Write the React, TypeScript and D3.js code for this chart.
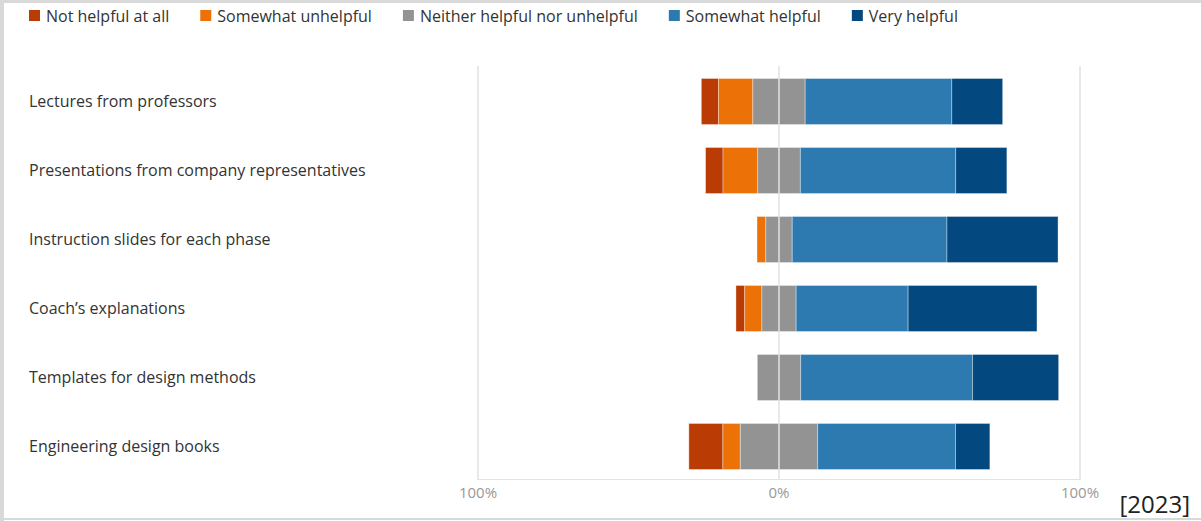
import React, { useRef, useEffect } from 'react';
import * as d3 from 'd3';

const categories = [
  'Lectures from professors',
  'Presentations from company representatives',
  'Instruction slides for each phase',
  'Coach\u2019s explanations',
  'Templates for design methods',
  'Engineering design books',
];
const seriesNames = [
  'Not helpful at all',
  'Somewhat unhelpful',
  'Neither helpful nor unhelpful',
  'Somewhat helpful',
  'Very helpful',
];
const seriesColors = ['#BA3B03', '#EC7208', '#939393', '#2D7AB0', '#03487F'];

const notHelpful = [5.7, 5.8, 0, 2.9, 0, 11.3];
const somewhatUnhelpful = [11.4, 11.5, 2.9, 5.7, 0, 5.8];
const neutral = [17.4, 14.2, 8.8, 11.4, 14.4, 25.7];
const somewhatHelpful = [48.7, 51.6, 51.4, 37.2, 57.1, 45.8];
const veryHelpful = [16.9, 17.0, 36.9, 42.8, 28.6, 11.4];

const tickValues = [-100, 0, 100];
const tickLabels = ['100%', '0%', '100%'];
const yearLabel = '[2023]';

const W = 1201;
const H = 521;
const FONT = '"Open Sans", sans-serif';

export default function App() {
  const ref = useRef<SVGSVGElement>(null);

  useEffect(() => {
    const svg = d3.select(ref.current);
    svg.selectAll('*').remove();

    // frame
    svg.append('rect').attr('x', 0).attr('y', 0).attr('width', W).attr('height', H).attr('fill', '#fff');
    svg.append('rect').attr('x', 0).attr('y', 0).attr('width', W).attr('height', 3).attr('fill', '#d9d9d9');
    svg.append('rect').attr('x', 0).attr('y', 0).attr('width', 4).attr('height', H).attr('fill', '#d9d9d9');
    svg.append('rect').attr('x', 0).attr('y', 518).attr('width', W).attr('height', 2).attr('fill', '#d9d9d9');

    const x = d3.scaleLinear().domain([-100, 100]).range([478, 1080]);
    const y = d3.scaleBand<string>().domain(categories).range([67, 481]).paddingInner(0.333).paddingOuter(0.1667);

    const series = [notHelpful, somewhatUnhelpful, neutral, somewhatHelpful, veryHelpful];

    // legend
    const legend = svg.append('g');
    let lx = 29;
    seriesNames.forEach((name, i) => {
      legend.append('rect').attr('x', lx).attr('y', 10).attr('width', 11).attr('height', 11).attr('fill', seriesColors[i]);
      const t = legend.append('text').attr('x', lx + 17).attr('y', 16).attr('dy', '0.35em')
        .attr('font-family', FONT).attr('font-size', 16).attr('fill', '#333').text(name);
      const w = (t.node() as SVGTextElement).getComputedTextLength();
      lx += 17 + w + 31;
    });

    // category labels
    svg.append('g').selectAll('text').data(categories).join('text')
      .attr('x', 29).attr('y', (d) => (y(d) as number) + y.bandwidth() / 2).attr('dy', '0.35em')
      .attr('font-family', FONT).attr('font-size', 16).attr('fill', '#333').text((d) => d);

    // bottom axis line
    svg.append('line').attr('x1', x(-100)).attr('x2', x(100)).attr('y1', 479.5).attr('y2', 479.5)
      .attr('stroke', '#e3e3e3').attr('stroke-width', 1);

    // bars
    const bars = svg.append('g');
    categories.forEach((c, r) => {
      let start = -(notHelpful[r] + somewhatUnhelpful[r] + neutral[r] / 2);
      series.forEach((s, i) => {
        const v = s[r];
        if (v > 0) {
          bars.append('rect')
            .attr('x', x(start)).attr('y', y(c) as number)
            .attr('width', x(start + v) - x(start)).attr('height', y.bandwidth())
            .attr('fill', seriesColors[i])
            .attr('stroke', 'rgba(255,255,255,0.35)').attr('stroke-width', 1);
        }
        start += v;
      });
    });

    // gridlines (over bars)
    svg.append('g').selectAll('line').data(tickValues).join('line')
      .attr('x1', (d) => x(d)).attr('x2', (d) => x(d)).attr('y1', 66).attr('y2', 480)
      .attr('stroke', 'rgba(225,225,225,0.75)').attr('stroke-width', 2);

    // tick labels
    svg.append('g').selectAll('text').data(tickValues).join('text')
      .attr('x', (d) => x(d)).attr('y', 493).attr('dy', '0.35em').attr('text-anchor', 'middle')
      .attr('font-family', FONT).attr('font-size', 15).attr('fill', '#999')
      .text((d, i) => tickLabels[i]);

    svg.append('text').attr('x', 1190).attr('y', 513).attr('text-anchor', 'end')
      .attr('font-family', FONT).attr('font-size', 24).attr('fill', '#222').text(yearLabel);
  }, []);

  return (
    <svg ref={ref} width={W} height={H} style={{ position: 'absolute', left: 0, top: 0, display: 'block' }} />
  );
}
